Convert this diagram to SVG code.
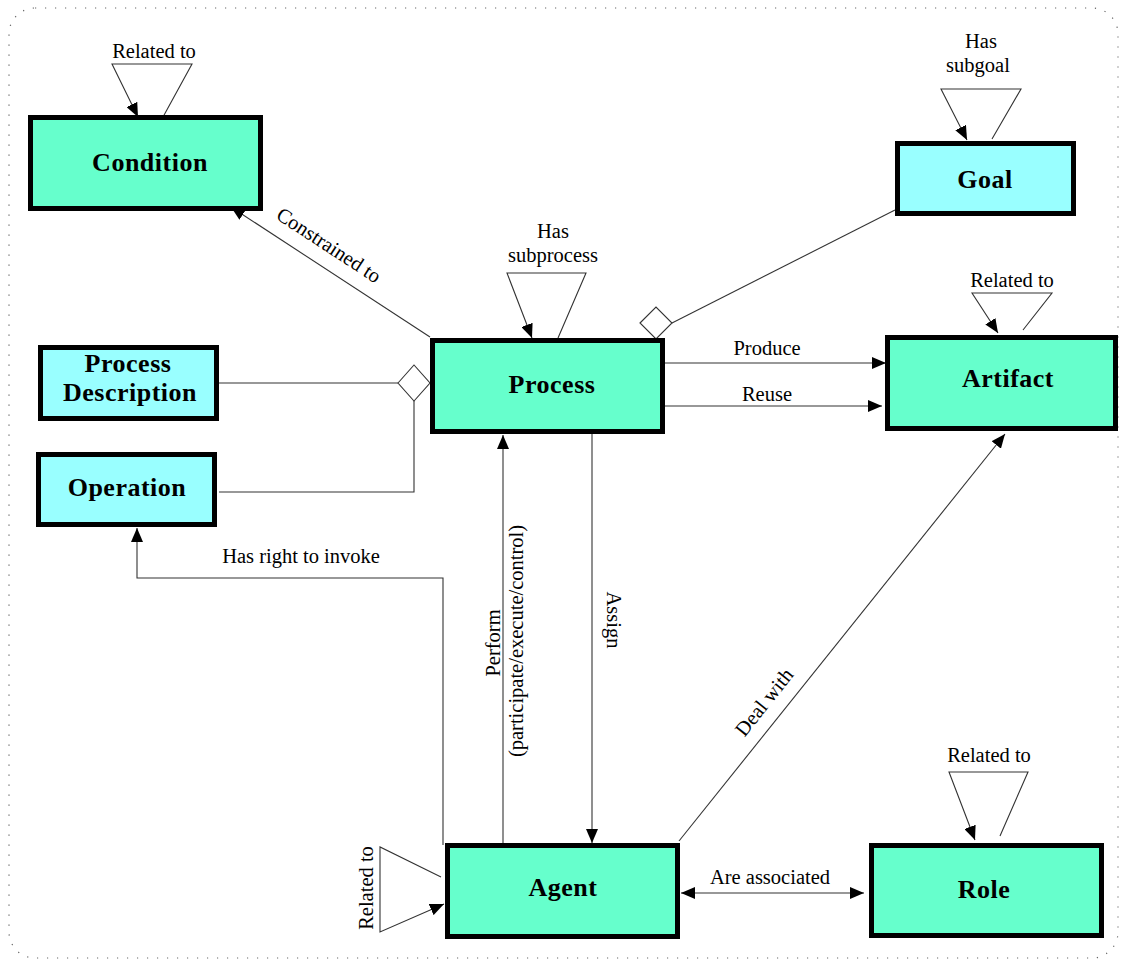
<svg xmlns="http://www.w3.org/2000/svg" width="1123" height="960" viewBox="0 0 1123 960">
<defs>
<marker id="arr" viewBox="0 0 14 12" refX="14" refY="6" markerWidth="14" markerHeight="12" markerUnits="userSpaceOnUse" orient="auto-start-reverse">
<path d="M0,0 L14,6 L0,12 z" fill="#000"/>
</marker>
<style>
.box{stroke:#000;stroke-width:5}
.g{fill:#66FFCC}
.c{fill:#99FFFF}
.nt{font-family:"Liberation Serif",serif;font-weight:bold;font-size:26px;text-anchor:middle;fill:#000;letter-spacing:0.5px}
.lb{font-family:"Liberation Serif",serif;font-size:20.5px;text-anchor:middle;fill:#000}
.ln{fill:none;stroke:#333;stroke-width:1.1}
.ar{marker-end:url(#arr)}
.dm{fill:#fff;stroke:#333;stroke-width:1.1}
</style>
</defs>
<rect x="9" y="8" width="1109" height="950" rx="26" fill="none" stroke="#666" stroke-width="1.2" stroke-dasharray="1.2 8.8"/>
<g id="connectors">
<polyline class="ln ar" points="163,117 192,64 112,64 138,117"/>
<line class="ln ar" x1="430" y1="337" x2="231" y2="207"/>
<polyline class="ln ar" points="558,338 586,273 507,273 532,338"/>
<polyline class="ln ar" points="992,139 1021,89 941,89 967,140"/>
<line class="ln" x1="672" y1="323" x2="895" y2="210"/>
<polygon class="dm" points="640,323 656,307 672,323 656,339"/>
<polyline class="ln ar" points="1023,330 1052,293 972,293 998,333"/>
<line class="ln ar" x1="665" y1="363" x2="886" y2="363"/>
<line class="ln ar" x1="665" y1="406" x2="882" y2="406"/>
<line class="ln" x1="219" y1="383" x2="398" y2="383"/>
<polyline class="ln" points="414,401 414,492 219,492"/>
<polygon class="dm" points="398,383 414,365 430,383 414,401"/>
<polyline class="ln ar" points="443,845 443,578 137,578 137,528"/>
<line class="ln ar" x1="503" y1="843" x2="503" y2="435"/>
<line class="ln ar" x1="592" y1="434" x2="592" y2="843"/>
<polyline class="ln ar" points="441,877 380,847 380,932 444,904"/>
<line class="ln ar" x1="679" y1="841" x2="1005" y2="434"/>
<line class="ln ar" x1="681" y1="893" x2="864" y2="893" marker-start="url(#arr)"/>
<polyline class="ln ar" points="1000,836 1028,772 949,772 975,840"/>
<text class="lb" x="154" y="58">Related to</text>
<text class="lb" transform="translate(329,245) rotate(33.2)" y="7">Constrained to</text>
<text class="lb" x="553" y="238">Has</text>
<text class="lb" x="553" y="262">subprocess</text>
<text class="lb" x="981" y="48">Has</text>
<text class="lb" x="978" y="72">subgoal</text>
<text class="lb" x="1012" y="287">Related to</text>
<text class="lb" x="767" y="355">Produce</text>
<text class="lb" x="767" y="401">Reuse</text>
<text class="lb" x="301" y="563">Has right to invoke</text>
<text class="lb" transform="translate(500,643) rotate(-90)">Perform</text>
<text class="lb" transform="translate(523,641) rotate(-90)">(participate/execute/control)</text>
<text class="lb" transform="translate(607,620) rotate(90)">Assign</text>
<text class="lb" transform="translate(764,702) rotate(-51.4)" y="7">Deal with</text>
<text class="lb" transform="translate(373,888) rotate(-90)">Related to</text>
<text class="lb" x="989" y="762">Related to</text>
<text class="lb" x="770" y="884">Are associated</text>
</g>
<g id="condition"><rect class="box g" x="30.5" y="117.5" width="230" height="91"/><text class="nt" x="150" y="171">Condition</text></g>
<g id="process"><rect class="box g" x="432.5" y="340.5" width="230" height="91"/><text class="nt" x="552" y="393">Process</text></g>
<g id="goal"><rect class="box c" x="897.5" y="143.5" width="176" height="70"/><text class="nt" x="985" y="188">Goal</text></g>
<g id="artifact"><rect class="box g" x="887.5" y="337.5" width="228" height="91"/><text class="nt" x="1008" y="387">Artifact</text></g>
<g id="process-description"><rect class="box c" x="40.5" y="347.5" width="176" height="71"/><text class="nt" x="128" y="372">Process</text><text class="nt" x="130" y="401">Description</text></g>
<g id="operation"><rect class="box c" x="38.5" y="454.5" width="176" height="70"/><text class="nt" x="127" y="496">Operation</text></g>
<g id="agent"><rect class="box g" x="447.5" y="845.5" width="230" height="91"/><text class="nt" x="563" y="896">Agent</text></g>
<g id="role"><rect class="box g" x="871.5" y="845.5" width="230" height="90"/><text class="nt" x="984" y="898">Role</text></g>
</svg>
